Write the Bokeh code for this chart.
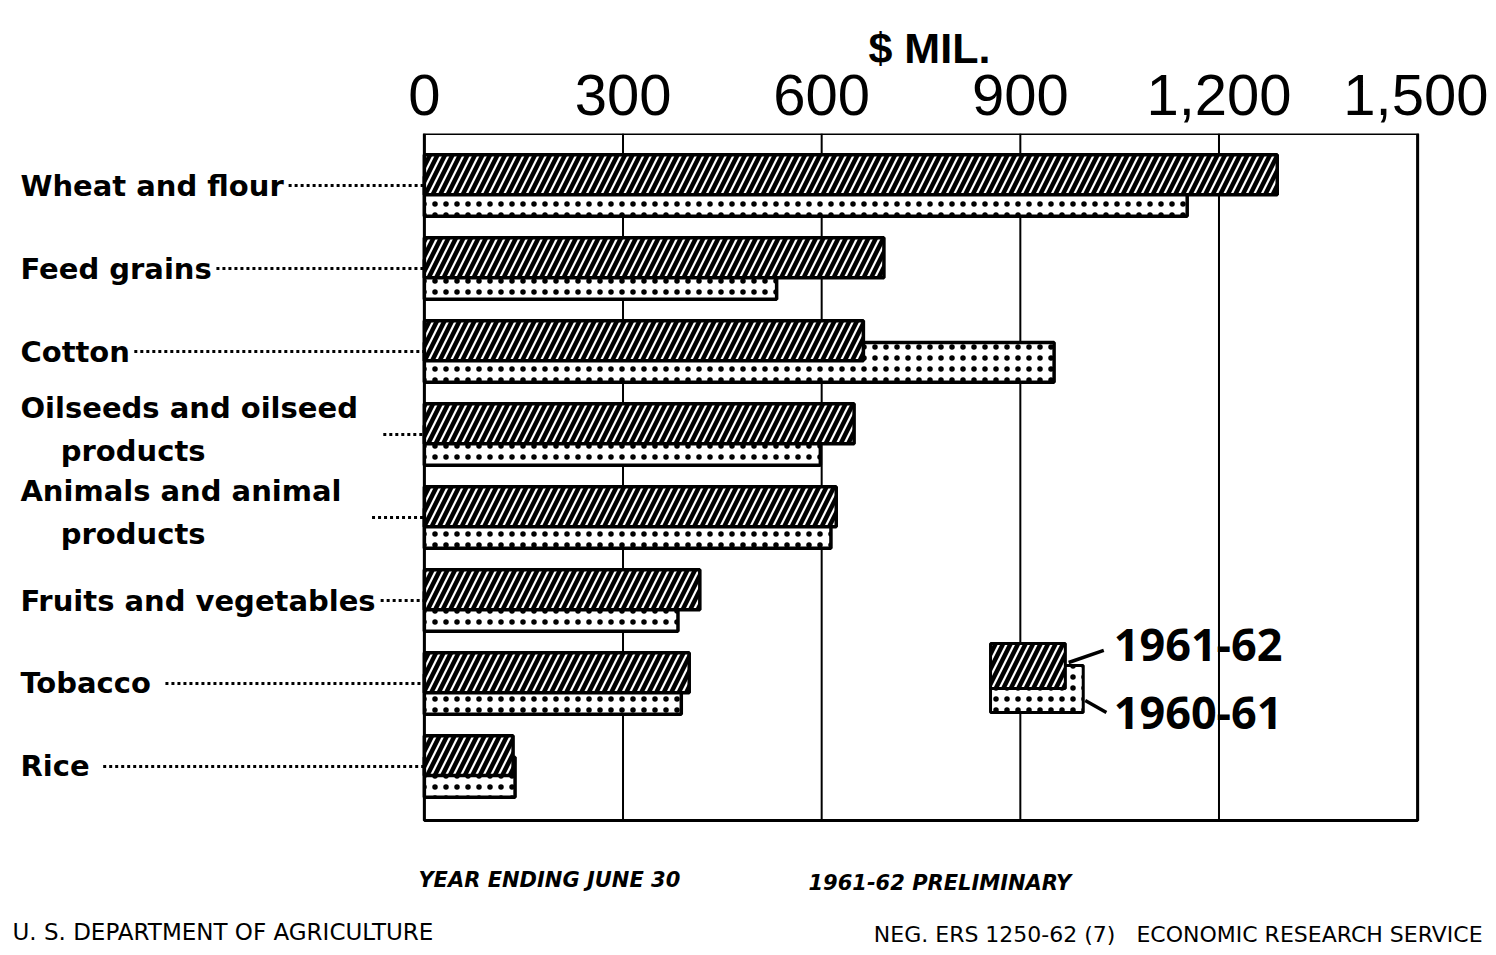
from bokeh.plotting import figure
from bokeh.models import (Range1d, FixedTicker, NumeralTickFormatter, BoxAnnotation,
                          ColumnDataSource, Title)
from bokeh.core.properties import value
from bokeh.embed import file_html
from bokeh.resources import INLINE

# ---------------- data ----------------
categories = [
    "Wheat and flour",
    "Feed grains",
    "Cotton",
    "Oilseeds and oilseed\n\u00a0\u00a0\u00a0\u00a0products",
    "Animals and animal\n\u00a0\u00a0\u00a0\u00a0products",
    "Fruits and vegetables",
    "Tobacco",
    "Rice",
]
v_1961_62 = [1288, 694, 663, 649, 622, 416, 400, 134]
v_1960_61 = [1152, 532, 951, 598, 614, 383, 388, 137]
tick_values = [0, 300, 600, 900, 1200, 1500]
series_names = ["1961-62", "1960-61"]
unit_label = "$ MIL."
notes = ["YEAR ENDING JUNE 30", "1961-62 PRELIMINARY"]
credits = ["U. S. DEPARTMENT OF AGRICULTURE",
           "NEG. ERS 1250-62 (7)\u00a0\u00a0\u00a0ECONOMIC RESEARCH SERVICE"]

# ---------------- layout / style ----------------
FONT = "Open Sans"
AFONT = "Liberation Sans"
LFONT = "DejaVu Sans"
n = len(categories)
pos = [n - 1 - i for i in range(n)]          # top category at top
label_dy = [0, 0, 0, 0.06, 0.06, 0, 0, 0]
OFF = 0.13
BAR_H = 0.48
Y_TOP, Y_BOT = 7.627, -0.651
leader_start = [-205, -314, -438, -62, -79, -66, -391, -485]

p = figure(width=1488, height=947, output_backend="svg", toolbar_location=None,
           x_range=Range1d(-628, 1607), y_range=Range1d(-2.181, Y_TOP),
           x_axis_location="above", y_axis_location=None,
           min_border_left=8, min_border_right=0, min_border_top=133,
           min_border_bottom=0)
p.outline_line_color = None
p.background_fill_color = "white"
p.border_fill_color = "white"

ticker = FixedTicker(ticks=tick_values)
ax = p.xaxis[0]
ax.ticker = ticker
ax.formatter = NumeralTickFormatter(format="0,0")
ax.axis_line_color = None
ax.major_tick_line_color = None
ax.major_tick_out = 0
ax.major_tick_in = 0
ax.minor_tick_line_color = None
ax.minor_tick_out = 0
ax.major_label_text_font = AFONT
ax.major_label_text_font_size = "58px"
ax.major_label_text_color = "black"
ax.major_label_standoff = 19
p.xgrid.grid_line_color = None
p.ygrid.grid_line_color = None

p.title = Title(text=unit_label, align="left", offset=860, standoff=0,
                text_font=AFONT, text_font_style="bold", text_font_size="43px",
                text_color="black")

# vertical rules at the ticks and the chart box
p.segment(x0=tick_values, y0=[Y_BOT] * len(tick_values), x1=tick_values,
          y1=[Y_TOP] * len(tick_values), line_color="black", line_width=2)
p.add_layout(BoxAnnotation(left=0, right=1500, bottom=Y_BOT, fill_alpha=0,
                           line_color="black", line_alpha=1, line_width=3))

# bars
src = ColumnDataSource(dict(
    y_a=[c + OFF for c in pos], y_b=[c - OFF for c in pos],
    a=v_1961_62, b=v_1960_61,
))
p.hbar(y="y_b", left=0, right="b", height=BAR_H, source=src,
       fill_color="white", line_color="black", line_width=3.5,
       hatch_pattern=".", hatch_scale=11, hatch_weight=4, hatch_color="black")
p.hbar(y="y_a", left=0, right="a", height=BAR_H, source=src,
       fill_color="white", line_color="black", line_width=3.5,
       hatch_pattern="/", hatch_scale=15, hatch_weight=4.5, hatch_color="black")

# category labels + dotted leaders
p.text(x=[-610] * n, y=[c + d for c, d in zip(pos, label_dy)], text=categories,
       text_font=value(LFONT), text_font_style="bold", text_font_size="29px",
       text_align="left", text_baseline="middle", text_line_height=1.27,
       text_color="black")
p.segment(x0=leader_start, y0=pos, x1=[0] * n, y1=pos, line_color="black",
          line_width=3, line_dash=value("3 3"))

# legend
p.quad(left=[855], right=[995], top=[1.217], bottom=[0.651], fill_color="white",
       line_color="black", line_width=3, hatch_pattern=".", hatch_scale=11,
       hatch_weight=4, hatch_color="black")
p.quad(left=[855], right=[968], top=[1.482], bottom=[0.940], fill_color="white",
       line_color="black", line_width=3, hatch_pattern="/", hatch_scale=15,
       hatch_weight=4.5, hatch_color="black")
p.segment(x0=[973, 998], y0=[1.253, 0.795], x1=[1026, 1030], y1=[1.398, 0.651],
          line_color="black", line_width=3.5)
p.text(x=[1041, 1041], y=[1.458, 0.639], text=series_names, text_font=value(FONT),
       text_font_style="bold", text_font_size="45px", text_align="left",
       text_baseline="middle", text_color="black")

# footnotes
p.text(x=[-9, 580], y=[-1.373, -1.398], text=notes, text_font=value(LFONT),
       text_font_style="bold italic", text_font_size="21px", text_align="left",
       text_baseline="middle", text_color="black")
p.text(x=[-622], y=[-2.0], text=credits[:1], text_font=value(LFONT),
       text_font_size="23px", text_align="left", text_baseline="middle",
       text_color="black")
p.text(x=[1598], y=[-2.02], text=credits[1:], text_font=value(LFONT),
       text_font_size="22px", text_align="right", text_baseline="middle",
       text_color="black")

open("out.html", "w").write(file_html(p, INLINE))
